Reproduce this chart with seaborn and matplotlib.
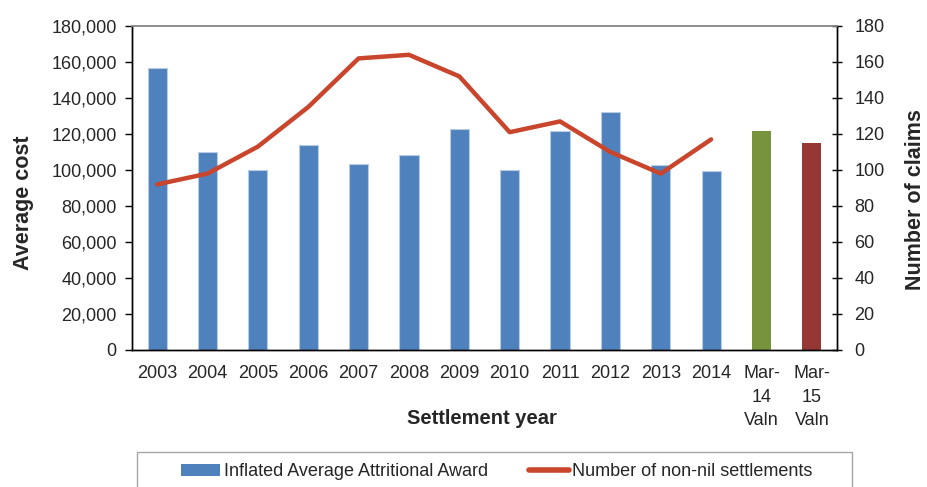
import numpy as np
import matplotlib
matplotlib.use("Agg")
import matplotlib.pyplot as plt
import seaborn as sns
from matplotlib.patches import Patch, Rectangle
from matplotlib.lines import Line2D
from matplotlib.ticker import FixedLocator, FuncFormatter

categories = ["2003", "2004", "2005", "2006", "2007", "2008", "2009", "2010",
              "2011", "2012", "2013", "2014", "Mar-\n14\nValn", "Mar-\n15\nValn"]
avg_cost = [156500, 110000, 100000, 114000, 103500, 108500, 122500, 100000,
            121800, 132300, 102700, 99300, 121800, 115000]
num_settlements = [92, 98, 113, 135, 162, 164, 152, 121, 127, 110, 98, 117]
bar_colors = ["#4F81BD"] * 12 + ["#77933C", "#953735"]
line_color = "#C9452C"
legend_labels = ["Inflated Average Attritional Award", "Number of non-nil settlements"]

sns.set_style("white")
plt.rcParams['font.family'] = ['Liberation Sans', 'DejaVu Sans']

fig = plt.figure(figsize=(9.27, 4.87), dpi=100)
ax = fig.add_axes([132/927, 1-350/487, 705/927, 324/487])

sns.barplot(x=categories, y=avg_cost, hue=categories, palette=bar_colors,
            legend=False, width=0.38, ax=ax, saturation=1)
for i, p in enumerate(ax.patches):
    if i < 12:
        p.set_edgecolor("#B8CCE4")
        p.set_linewidth(0.8)
    else:
        p.set_linewidth(0)

ax.set_xlim(-0.5, len(categories) - 0.5)
ax.set_ylim(0, 180000)
ax.set_yticks(np.arange(0, 180001, 20000))
ax.yaxis.set_major_formatter(FuncFormatter(lambda v, p: f"{int(v):,}"))

ax2 = ax.twinx()
sns.lineplot(x=np.arange(len(num_settlements)), y=num_settlements, color=line_color,
             linewidth=3.2, ax=ax2)
ax2.set_ylim(0, 180)
ax2.set_yticks(np.arange(0, 181, 20))
ax2.set_xlim(-0.5, len(categories) - 0.5)

# spines
for a in (ax, ax2):
    for s in ("left", "right", "bottom"):
        a.spines[s].set_color("black")
        a.spines[s].set_linewidth(1.0)
    a.spines["top"].set_color("#8C8C8C")
    a.spines["top"].set_linewidth(1.2)

# x ticks: labels at centers, tick marks at boundaries
ax.set_xticks(np.arange(len(categories)))
ax.set_xticklabels(categories, fontsize=13, linespacing=1.5, va="top")
ax.tick_params(axis="x", which="major", length=0, pad=11)
ax.xaxis.set_minor_locator(FixedLocator(np.arange(-0.5, len(categories), 1.0)))
ax.tick_params(axis="x", which="minor", length=8, direction="inout", width=1, color="#555555")
ax.tick_params(axis="y", which="major", labelsize=13, length=5, direction="out",
               width=1, pad=6, left=True, color="black")
ax2.tick_params(axis="y", which="major", labelsize=13, length=7, direction="inout",
                width=1, pad=9, right=True, color="black")

ax.set_xlabel("Settlement year", fontsize=14.5, fontweight="bold", va="center")
ax.xaxis.set_label_coords(0.4965, -0.21)
ax.set_ylabel("Average cost", fontsize=15.5, fontweight="bold", va="center")
ax.yaxis.set_label_coords(-0.1546, 0.455)
ax2.set_ylabel("Number of claims", fontsize=15.5, fontweight="bold", va="center", rotation=90)
ax2.yaxis.set_label_coords(1.112, 0.463)

# legend
handles = [Patch(facecolor="#4F81BD", edgecolor="none"),
           Line2D([0], [0], color=line_color, lw=4)]
fig.legend(handles, legend_labels, loc="center left",
           bbox_to_anchor=(181/927, 1-472/487), ncol=2, frameon=False,
           handlelength=2.17, handletextpad=0.2, columnspacing=2.3,
           borderpad=0, borderaxespad=0, fontsize=13, handleheight=0.6)
fig.patches.append(Rectangle((137/927, -0.02), 715/927, (1-452/487) + 0.02,
                             transform=fig.transFigure, facecolor="none",
                             edgecolor="#A6A6A6", linewidth=1.0))

fig.savefig("out.png", dpi=100)
